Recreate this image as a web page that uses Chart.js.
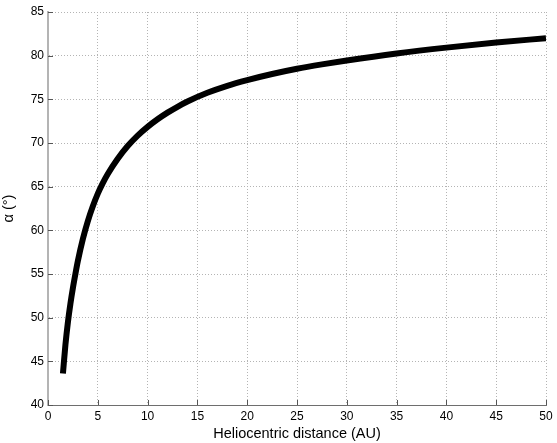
<!DOCTYPE html>
<html>
<head>
<meta charset="utf-8">
<script src="https://cdn.jsdelivr.net/npm/chart.js@4/dist/chart.umd.min.js"></script>
<style>
  html, body { margin: 0; padding: 0; background: #fff; }
  #wrap { width: 557px; height: 443px; }
</style>
</head>
<body>
<div id="wrap"><canvas id="alpha-chart" width="557" height="443"></canvas></div>
<script>
// values
const distanceAU = [1.5, 1.75, 2, 2.25, 2.5, 2.75, 3, 3.5, 4, 4.5, 5, 5.5, 6, 7, 8, 9, 10, 11, 12, 13, 14, 16, 18, 20, 22.5, 25, 27.5, 30, 35, 40, 45, 50];
const alphaDeg = [43.6, 46.9, 49.5, 51.6, 53.4, 55.0, 56.5, 59.0, 61.05, 62.75, 64.2, 65.4, 66.45, 68.2, 69.65, 70.85, 71.85, 72.72, 73.48, 74.15, 74.75, 75.75, 76.55, 77.2, 77.9, 78.5, 79.0, 79.45, 80.25, 80.92, 81.5, 82.0];

const xTicks = [0, 5, 10, 15, 20, 25, 30, 35, 40, 45, 50];
const yTicks = [40, 45, 50, 55, 60, 65, 70, 75, 80, 85];

const points = distanceAU.map((d, i) => ({ x: d, y: alphaDeg[i] }));
const FONT = "'Liberation Sans', Arial, sans-serif";

// small tick marks pointing into the plot, like the matlab figure
const innerTicks = {
  id: "innerTicks",
  afterDraw(chart) {
    const { ctx, chartArea: a, scales } = chart;
    ctx.save();
    ctx.strokeStyle = "#555";
    ctx.lineWidth = 1;
    ctx.beginPath();
    xTicks.forEach((v) => {
      const px = Math.round(scales.x.getPixelForValue(v)) + 0.5;
      ctx.moveTo(px, a.bottom);
      ctx.lineTo(px, a.bottom - 5);
    });
    yTicks.forEach((v) => {
      const py = Math.round(scales.y.getPixelForValue(v)) + 0.5;
      ctx.moveTo(a.left, py);
      ctx.lineTo(a.left + 5, py);
    });
    ctx.stroke();
    ctx.restore();
  },
};

const alphaChart = new Chart(document.getElementById("alpha-chart"), {
  type: "line",
  data: {
    datasets: [
      {
        data: points,
        borderColor: "#000",
        borderWidth: 6,
        pointRadius: 0,
        cubicInterpolationMode: "monotone",
        fill: false,
      },
    ],
  },
  options: {
    responsive: false,
    animation: false,
    layout: { padding: { top: 12, right: 11, left: 0, bottom: 0 } },
    plugins: { legend: { display: false }, tooltip: { enabled: false } },
    scales: {
      x: {
        type: "linear",
        min: 0,
        max: 50,
        afterBuildTicks: (s) => { s.ticks = xTicks.map((v) => ({ value: v })); },
        afterFit: (s) => { s.height = 38; },
        ticks: { color: "#000", font: { family: FONT, size: 12 }, padding: 4, maxRotation: 0 },
        grid: { color: "#b4b4b4", lineWidth: 1, drawTicks: false },
        border: { color: "#6e6e6e", width: 1, dash: [1, 2] },
        title: {
          display: true,
          text: "Heliocentric distance (AU)",
          color: "#000",
          font: { family: FONT, size: 14.5 },
          padding: { top: 0, bottom: 0 },
        },
      },
      y: {
        min: 40,
        max: 85,
        afterBuildTicks: (s) => { s.ticks = yTicks.map((v) => ({ value: v })); },
        afterFit: (s) => { s.width = 48; },
        ticks: { color: "#000", font: { family: FONT, size: 12 }, padding: 4 },
        grid: { color: "#b4b4b4", lineWidth: 1, drawTicks: false },
        border: { color: "#b4b4b4", width: 2, dash: [1, 2] },
        title: {
          display: true,
          text: "α (°)",
          color: "#000",
          font: { family: FONT, size: 14.5 },
          padding: { top: 0, bottom: 2 },
        },
      },
    },
  },
  plugins: [innerTicks],
});
</script>
</body>
</html>
